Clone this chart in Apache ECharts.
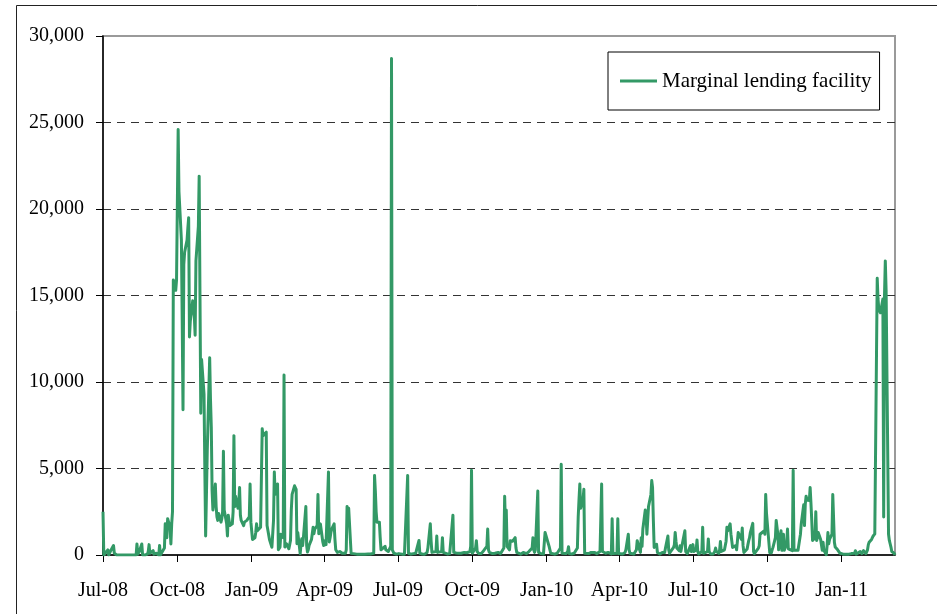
<!DOCTYPE html>
<html>
<head>
<meta charset="utf-8">
<script src="https://cdn.jsdelivr.net/npm/echarts@6/dist/echarts.min.js"></script>
<style>
  html, body { margin: 0; padding: 0; background: #fff; }
  #main { width: 937px; height: 614px; }
</style>
</head>
<body>
<div id="main"></div>
<script>
// Daily recourse to the marginal lending facility (EUR millions), one value per business day,
// grouped by quarter. Each array starts on the first weekday of its quarter.
const q3_2008 = [
  2500, 0, 0, 100, 300, 0, 100, 200, 300, 550,
  100, 0, 50, 0, 0, 0, 0, 0, 0, 0,
  0, 0, 0, 0, 0, 0, 0, 0, 0, 0,
  640, 50, 0, 200, 640, 0, 0, 100, 0, 50,
  200, 600, 100, 0, 250, 50, 0, 0, 100, 0,
  550, 0, 0, 100, 400, 1800, 1500, 1000, 2100, 1600,
  640, 1800, 2500, 15900, 15300, 15900
];
const q4_2008 = [
  15900, 24600, 21000, 18200, 13600, 8400, 16800, 17500, 18200, 18900,
  19500, 12600, 13500, 14700, 14600, 13800, 12700, 17000, 19000, 21900,
  15000, 8200, 11300, 9300, 5000, 1100, 3500, 6000, 11400, 9000,
  7400, 3700, 2600, 4100, 2800, 2200, 2000, 2400, 1900, 2100,
  2500, 6000, 2600, 1800, 1100, 2300, 2000, 1700, 1800, 2500,
  6900, 2800, 3400, 2700, 3000, 3900, 2300, 2000, 1700, 1900,
  2000, 1900, 2000, 2200, 4100, 1900
];
const q1_2009 = [
  1400, 900, 1000, 1300, 1800, 1400, 1500, 1600, 1500, 7300,
  6900, 7000, 7100, 1700, 1700, 1600, 900, 450, 450, 2000,
  4800, 3500, 4100, 300, 400, 450, 1200, 1000, 10400, 460,
  500, 650, 360, 600, 840, 2600, 3500, 4000, 3900, 3800,
  650, 1300, 80, 600, 940, 550, 1000, 2800, 550, 170,
  300, 550, 900, 940, 1600, 1230, 1500, 1700, 3500, 1230,
  1500, 1800, 750, 550
];
const q2_2009 = [
  460, 840, 600, 4800, 750, 1000, 1300, 1500, 1800, 900,
  300, 270, 150, 200, 100, 100, 100, 100, 100, 300,
  2800, 2500, 2700, 100, 50, 50, 80, 50, 50, 60,
  50, 50, 60, 50, 50, 80, 50, 50, 60, 50,
  50, 60, 80, 100, 4600, 3700, 2500, 1900, 1900, 1000,
  300, 200, 400, 500, 300, 400, 300, 200, 500, 28700,
  300, 200, 100, 50, 50
];
const q3_2009 = [
  50, 80, 50, 50, 100, 60, 50, 100, 4600, 100,
  60, 50, 50, 80, 60, 50, 100, 300, 840, 100,
  50, 50, 60, 50, 50, 80, 150, 400, 1800, 800,
  150, 100, 100, 200, 1100, 150, 100, 100, 200, 1000,
  150, 80, 60, 60, 50, 50, 80, 150, 2300, 150,
  100, 100, 120, 100, 150, 120, 100, 100, 150, 120,
  100, 130, 150, 200, 500, 4900
];
const q4_2009 = [
  100, 200, 400, 830, 200, 100, 80, 80, 100, 150,
  250, 350, 500, 1500, 300, 150, 100, 80, 100, 120,
  100, 150, 150, 100, 100, 80, 150, 400, 3400, 1600,
  2600, 500, 300, 830, 850, 900, 800, 1000, 400, 150,
  100, 60, 50, 100, 120, 150, 100, 80, 50, 100,
  200, 250, 400, 1000, 300, 150, 300, 3700, 150, 100,
  100, 80, 60, 100, 1300, 1300
];
const q1_2010 = [
  1300, 500, 300, 100, 80, 60, 50, 50, 80, 100,
  150, 400, 5250, 100, 60, 60, 80, 120, 200, 480,
  80, 60, 60, 60, 100, 100, 400, 2200, 3200, 4100,
  2700, 3200, 3800, 100, 60, 60, 80, 60, 100, 150,
  200, 150, 200, 100, 80, 100, 200, 200, 4100, 200,
  100, 100, 80, 100, 150, 80, 60, 2100, 80, 60,
  60, 100, 2100, 80
];
const q2_2010 = [
  80, 60, 60, 80, 100, 150, 300, 1200, 300, 100,
  60, 60, 60, 80, 100, 300, 830, 300, 150, 1000,
  500, 1500, 2600, 2400, 1200, 2000, 2800, 3500, 4300, 3900,
  2000, 440, 620, 150, 60, 50, 60, 150, 200, 100,
  150, 400, 1100, 300, 100, 100, 150, 440, 600, 1300,
  800, 400, 250, 540, 200, 100, 300, 1400, 200, 100,
  80, 150, 540, 200, 100
];
const q3_2010 = [
  600, 200, 300, 870, 200, 60, 60, 200, 1600, 100,
  50, 60, 200, 930, 200, 100, 60, 60, 100, 200,
  400, 200, 100, 300, 780, 200, 150, 300, 400, 800,
  1600, 1400, 1800, 1200, 830, 440, 500, 540, 300, 800,
  1300, 1400, 900, 1560, 540, 150, 100, 350, 600, 830,
  1000, 1300, 1830, 200, 80, 60, 100, 400, 540, 1200,
  1300, 1100, 1400, 1200, 3500, 2400
];
const q4_2010 = [
  2400, 130, 250, 130, 300, 440, 1000, 2000, 2100, 1200,
  300, 1400, 270, 500, 1200, 270, 700, 1500, 360, 270,
  300, 250, 4900, 270, 270, 250, 270, 250, 270, 1200,
  1800, 2900, 1700, 2950, 3400, 3200, 3150, 3900, 3000, 2000,
  840, 1000, 2500, 840, 1000, 1300, 900, 840, 270, 740,
  270, 20, 560, 1300, 650, 900, 1200, 3500, 3400, 740,
  460, 300, 270, 200, 100, 50
];
const q1_2011 = [
  50, 100, 80, 50, 60, 50, 50, 60, 80, 50,
  100, 250, 50, 60, 100, 200, 100, 80, 100, 250,
  80, 100, 300, 600, 740, 900, 1000, 1100, 1200, 1220,
  16000, 14800, 14200, 14100, 14000, 14800, 2200, 15000, 17000, 15300,
  1200, 840, 650, 460, 200, 100, 0
];

// quarter start dates [year, monthIndex, day] paired with their value arrays
const quarterStarts = [
  [2008, 6, 1], [2008, 9, 1], [2009, 0, 1], [2009, 3, 1], [2009, 6, 1], [2009, 9, 1],
  [2010, 0, 1], [2010, 3, 1], [2010, 6, 1], [2010, 9, 1], [2011, 0, 1]
];
const quarterValues = [
  q3_2008, q4_2008, q1_2009, q2_2009, q3_2009, q4_2009,
  q1_2010, q2_2010, q3_2010, q4_2010, q1_2011
];

const monthNames = ['Jan', 'Feb', 'Mar', 'Apr', 'May', 'Jun', 'Jul', 'Aug', 'Sep', 'Oct', 'Nov', 'Dec'];
const yTicks = [0, 5000, 10000, 15000, 20000, 25000, 30000];

function weekdays(start, n) {
  const out = [];
  const d = new Date(start[0], start[1], start[2]);
  while (out.length < n) {
    const wd = d.getDay();
    if (wd !== 0 && wd !== 6) out.push(d.getTime());
    d.setDate(d.getDate() + 1);
  }
  return out;
}

const seriesData = [];
quarterValues.forEach((vals, i) => {
  const dates = weekdays(quarterStarts[i], vals.length);
  vals.forEach((v, j) => seriesData.push([dates[j], v]));
});

const tickDates = quarterStarts.map(q => new Date(q[0], q[1], q[2]).getTime());
const lastDate = seriesData[seriesData.length - 1][0];

const font = "'Liberation Serif', 'Times New Roman', serif";
const green = '#339966';

const chart = echarts.init(document.getElementById('main'), null, { renderer: 'canvas' });
chart.setOption({
  animation: false,
  backgroundColor: '#fff',
  grid: {
    left: 103, right: 42, top: 36, bottom: 59,
    show: true, borderColor: '#9a9a9a', borderWidth: 2, backgroundColor: 'transparent'
  },
  legend: {
    data: ['Marginal lending facility'],
    left: 608, top: 52,
    padding: [18, 8, 18, 12],
    borderColor: '#000', borderWidth: 1,
    icon: 'rect',
    itemWidth: 37, itemHeight: 3,
    itemStyle: { color: green },
    textStyle: { fontFamily: font, fontSize: 21, color: '#000', lineHeight: 22 }
  },
  xAxis: {
    type: 'value',
    min: tickDates[0],
    max: lastDate,
    axisLine: { lineStyle: { color: '#000', width: 1.5 } },
    axisTick: { show: true, inside: false, length: 7, customValues: tickDates, lineStyle: { color: '#000' } },
    axisLabel: {
      customValues: tickDates,
      formatter: v => {
        const d = new Date(v);
        return monthNames[d.getMonth()] + '-' + String(d.getFullYear()).slice(2);
      },
      fontFamily: font, fontSize: 20, color: '#000', margin: 26
    },
    splitLine: { show: false }
  },
  yAxis: {
    type: 'value',
    min: yTicks[0], max: yTicks[yTicks.length - 1], interval: 5000,
    axisLine: { show: true, lineStyle: { color: '#000', width: 1.5 } },
    axisTick: { show: true, inside: false, length: 7, lineStyle: { color: '#000' } },
    axisLabel: {
      formatter: v => v.toLocaleString('en-US'),
      fontFamily: font, fontSize: 20, color: '#000', margin: 19
    },
    splitLine: {
      show: true, showMinLine: false, showMaxLine: false,
      lineStyle: { color: '#333', width: 1, type: [8, 6] }
    }
  },
  series: [{
    name: 'Marginal lending facility',
    type: 'line',
    data: seriesData,
    symbol: 'none',
    lineStyle: { color: green, width: 3, join: 'round' },
    itemStyle: { color: green }
  }],
  graphic: [{
    type: 'rect',
    shape: { x: 16.5, y: 5.5, width: 960, height: 700 },
    style: { fill: 'none', stroke: '#222', lineWidth: 1 },
    silent: true
  }]
});
</script>
</body>
</html>
